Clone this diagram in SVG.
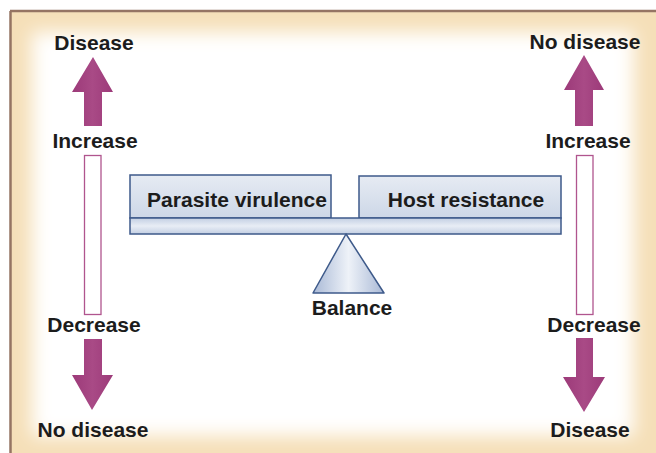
<svg xmlns="http://www.w3.org/2000/svg" width="656" height="453" viewBox="0 0 656 453">
<style>
.t{font-family:"Liberation Sans",Arial,sans-serif;font-weight:bold;font-size:21px;fill:#1c1c1c;text-anchor:middle}
.arr{fill:url(#ag)}
.bar{fill:#ffffff;stroke:#b0558e;stroke-width:1.3}
.box{fill:url(#bg);stroke:#3e5a8a;stroke-width:1.5}
</style>
<defs>
<linearGradient id="ag" x1="0" y1="0" x2="1" y2="0">
<stop offset="0" stop-color="#9c3a79"/><stop offset="0.5" stop-color="#a94a86"/><stop offset="1" stop-color="#9c3a79"/>
</linearGradient>
<linearGradient id="bg" x1="0" y1="0" x2="0" y2="1">
<stop offset="0" stop-color="#e6ebf3"/><stop offset="1" stop-color="#cdd7e7"/>
</linearGradient>
<linearGradient id="beam" x1="0" y1="0" x2="0" y2="1">
<stop offset="0" stop-color="#c3cfe3"/><stop offset="0.5" stop-color="#e8edf5"/><stop offset="1" stop-color="#c3cfe3"/>
</linearGradient>
<linearGradient id="tri" x1="0" y1="0" x2="1" y2="0">
<stop offset="0" stop-color="#a9b9d6"/><stop offset="0.5" stop-color="#eef2f8"/><stop offset="1" stop-color="#a9b9d6"/>
</linearGradient>
<filter id="blur" x="-10%" y="-10%" width="120%" height="120%"><feGaussianBlur stdDeviation="9"/></filter>
</defs>
<rect x="0" y="0" width="656" height="453" fill="#ffffff"/>
<g id="frame">
<rect x="10" y="11" width="646" height="442" fill="#f5dfb8"/>
<rect x="32" y="32" width="602" height="404" fill="#ffffff" filter="url(#blur)"/>
<line x1="10" y1="11" x2="656" y2="11" stroke="#957463" stroke-width="2.5"/>
<line x1="10.5" y1="11" x2="10.5" y2="453" stroke="#957463" stroke-width="2.5"/>
</g>
<g id="connectors">
<path class="arr" d="M93,57 L113,92 L102,92 L102,126 L84,126 L84,92 L72,92 Z"/>
<path class="arr" d="M84,339 L102,339 L102,375 L113,375 L92,410 L72,375 L84,375 Z"/>
<path class="arr" d="M584,55 L604,90 L593,90 L593,126 L575,126 L575,90 L564,90 Z"/>
<path class="arr" d="M576,338 L593,338 L593,377 L605,377 L584,412 L563,377 L576,377 Z"/>
<rect class="bar" x="84.5" y="155.5" width="16.5" height="159"/>
<rect class="bar" x="576.5" y="155.5" width="16.5" height="159"/>
</g>
<g id="left-labels">
<text class="t" x="94" y="50">Disease</text>
<text class="t" x="95" y="148">Increase</text>
<text class="t" x="94" y="332">Decrease</text>
<text class="t" x="93" y="437">No disease</text>
</g>
<g id="right-labels">
<text class="t" x="585" y="49">No disease</text>
<text class="t" x="588" y="148">Increase</text>
<text class="t" x="594" y="332">Decrease</text>
<text class="t" x="590" y="437">Disease</text>
</g>
<g id="parasite-virulence">
<rect class="box" x="130" y="175" width="201" height="43"/>
<text class="t" x="237" y="207">Parasite virulence</text>
</g>
<g id="host-resistance">
<rect class="box" x="359" y="176" width="202" height="42"/>
<text class="t" x="466" y="207">Host resistance</text>
</g>
<g id="beam">
<rect x="130" y="218" width="431" height="16" fill="url(#beam)" stroke="#3e5a8a" stroke-width="1.5"/>
</g>
<g id="balance">
<path d="M346,234 L384,293 L313,293 Z" fill="url(#tri)" stroke="#3e5a8a" stroke-width="1.5" stroke-linejoin="round"/>
<text class="t" x="352" y="315">Balance</text>
</g>
</svg>
